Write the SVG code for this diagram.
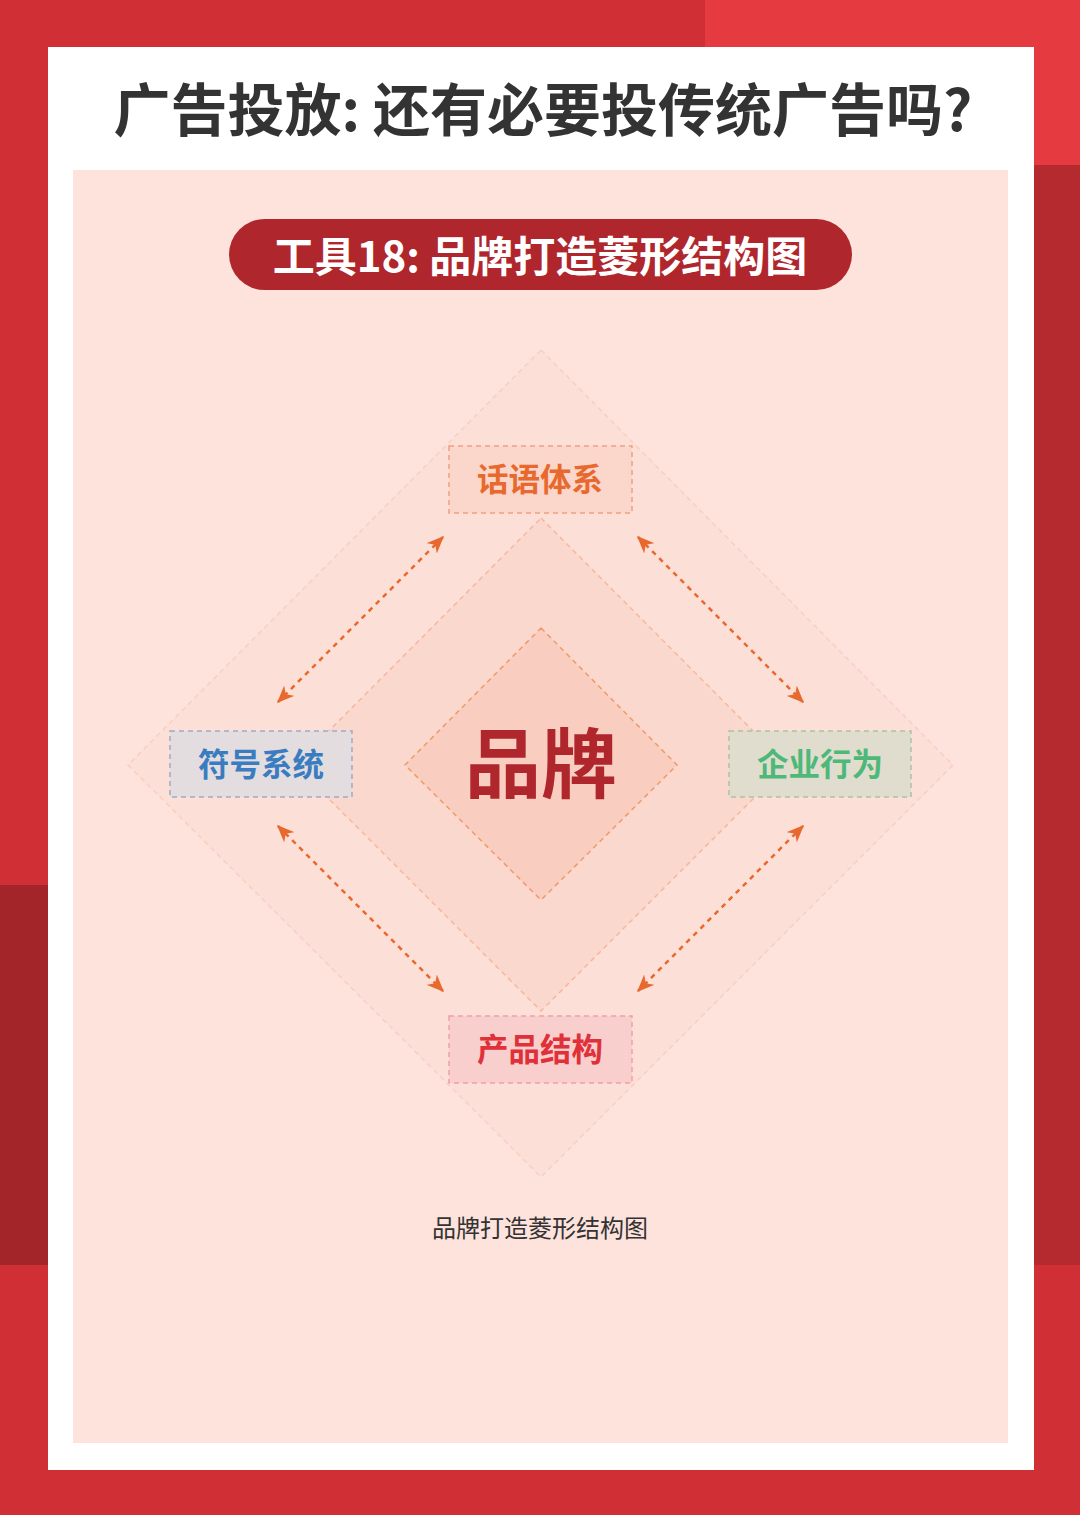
<svg xmlns="http://www.w3.org/2000/svg" width="1080" height="1515" viewBox="0 0 1080 1515">
<defs>
<style>
.cjk{font-family:"Noto Sans CJK SC","Noto Sans",sans-serif;}
.nodeText{font-size:31.5px;font-weight:700;text-anchor:middle;}
.arrow{fill:none;stroke:#E8692E;stroke-width:2.5;stroke-dasharray:5 5;marker-start:url(#ah);marker-end:url(#ah);}
.dia{stroke-width:1.5;stroke-dasharray:5 4;}
</style>
<marker id="ah" viewBox="0 0 12 10" refX="11" refY="5" markerWidth="7" markerHeight="6" orient="auto-start-reverse" markerUnits="strokeWidth">
<path d="M0,0 L12,5 L0,10 L3.5,5 z" fill="#E8692E"/>
</marker>
</defs>

<g id="background">
<rect x="0" y="0" width="1080" height="1515" fill="#D03035"/>
<rect x="705" y="0" width="375" height="165" fill="#E53A40"/>
<rect x="1034" y="165" width="46" height="1100" fill="#B52A2E"/>
<rect x="0" y="885" width="48" height="380" fill="#A3252A"/>
<rect x="48" y="47" width="986" height="1423" fill="#FFFFFF"/>
<rect x="73" y="170" width="935" height="1273" fill="#FDE3DC"/>
</g>

<g id="title">
<text x="543" y="131" class="cjk" font-size="57" font-weight="700" fill="#333333" text-anchor="middle">广告投放: 还有必要投传统广告吗?</text>
</g>

<g id="subtitle">
<rect x="229" y="219" width="623" height="71" rx="35.5" fill="#B0262D"/>
<text x="540" y="272" class="cjk" font-size="42" font-weight="700" fill="#FFFFFF" text-anchor="middle">工具18: 品牌打造菱形结构图</text>
</g>

<g id="diamonds">
<polygon id="outer" class="dia" points="541,350 953,765 541,1177 128,765" fill="#FCDCD3" fill-opacity="0.6" stroke="#F6C8B8" stroke-opacity="0.7"/>
<polygon id="middle" class="dia" points="541,518 787,765 541,1011 295,765" fill="#F9D5CA" fill-opacity="0.75" stroke="#F2A585" stroke-opacity="0.65"/>
<polygon id="inner" class="dia" points="541,628 677,765 541,900 405,765" fill="#F8C8B8" fill-opacity="0.6" stroke="#F09A68"/>
</g>

<g id="connectors">
<line class="arrow" x1="443" y1="537" x2="278" y2="702"/>
<line class="arrow" x1="638" y1="537" x2="803" y2="702"/>
<line class="arrow" x1="278" y1="826" x2="443" y2="991"/>
<line class="arrow" x1="803" y1="826" x2="638" y2="991"/>
</g>

<g id="node-brand">
<text x="541" y="792" class="cjk" font-size="76" font-weight="700" fill="#B0262D" text-anchor="middle">品牌</text>
</g>

<g id="node-discourse">
<rect x="449" y="446" width="183" height="67" fill="#FAD3C8" fill-opacity="0.8" stroke="#F0A080" stroke-width="1.5" stroke-dasharray="5 4"/>
<text x="540" y="491" class="cjk nodeText" fill="#E8692E">话语体系</text>
</g>

<g id="node-symbol">
<rect x="170" y="731" width="182" height="66" fill="#E4DDDF" stroke="#9DAAC8" stroke-width="1.5" stroke-dasharray="5 4"/>
<text x="261" y="776" class="cjk nodeText" fill="#3A7CC0">符号系统</text>
</g>

<g id="node-behavior">
<rect x="729" y="731" width="182" height="66" fill="#E0DDCF" stroke="#A8C4A4" stroke-width="1.5" stroke-dasharray="5 4"/>
<text x="820" y="776" class="cjk nodeText" fill="#4DB878">企业行为</text>
</g>

<g id="node-product">
<rect x="449" y="1016" width="183" height="67" fill="#F8CFCD" stroke="#F0A0A8" stroke-width="1.5" stroke-dasharray="5 4"/>
<text x="540" y="1061" class="cjk nodeText" fill="#E0303A">产品结构</text>
</g>

<g id="caption">
<text x="540" y="1237" class="cjk" font-size="24" fill="#333333" text-anchor="middle">品牌打造菱形结构图</text>
</g>
</svg>
